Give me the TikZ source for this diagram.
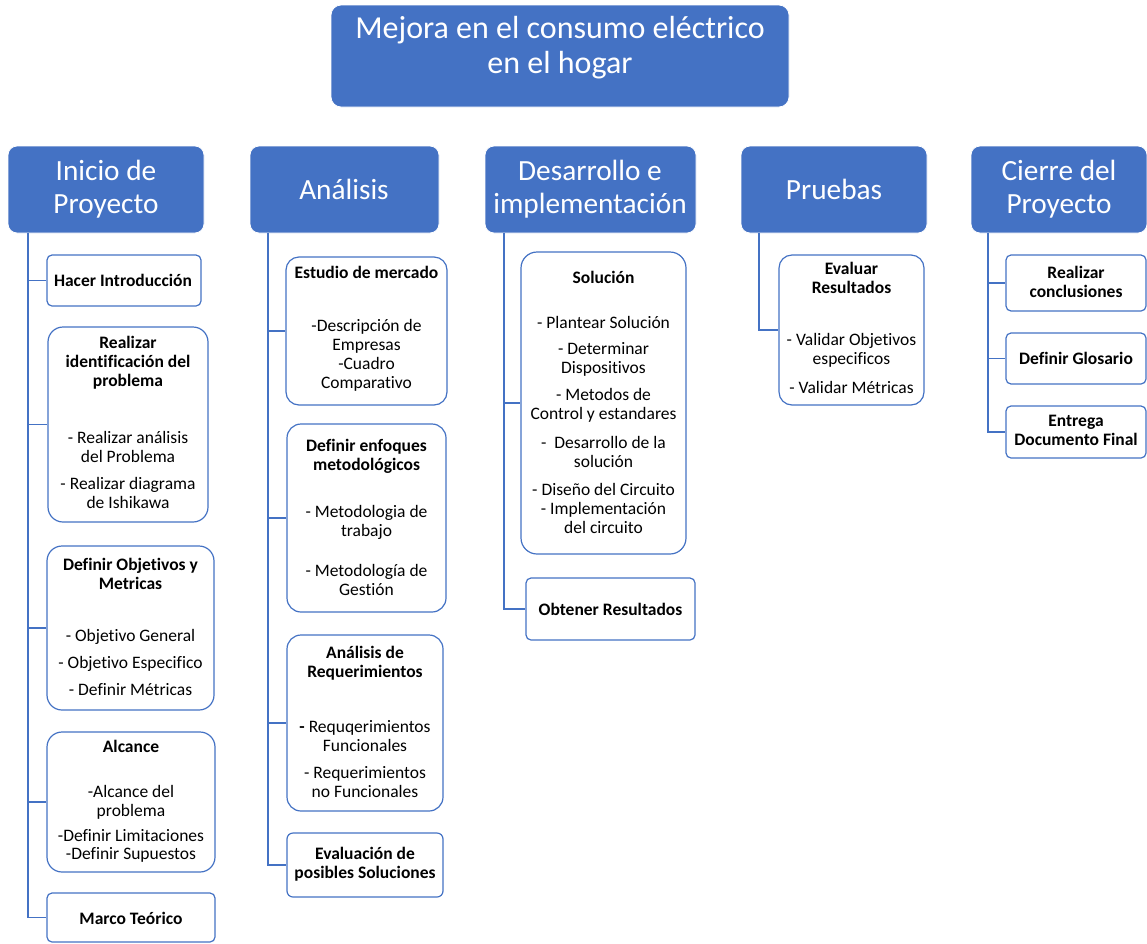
\documentclass[tikz,border=0pt]{standalone}
\usepackage{fontspec}
\setmainfont{Carlito}[Ligatures={NoCommon}]
\usetikzlibrary{fit}
\definecolor{ofblue}{HTML}{4472C4}
\tikzset{
  hdr/.style={fill=ofblue, draw=white, line width=0.8pt, inner sep=0pt},
  hdrtxt/.style={text=white, align=center, font=\fontsize{29.3}{33}\selectfont, inner sep=0pt},
  wb/.style={fill=white, draw=ofblue, line width=1.2pt, inner sep=0pt},
  tb/.style={align=center, font=\fontsize{17.5}{19}\selectfont\bfseries, inner sep=0pt, text=black},
  tr/.style={align=center, font=\fontsize{17.5}{19}\selectfont, inner sep=0pt, text=black},
  conn/.style={draw=ofblue, line width=1.4pt},
}
\newcommand\mkbox[7]{\node[#7, rounded corners=#6, fit={(#2,#3) (#4,#5)}] (#1) {};}
\begin{document}
\begin{tikzpicture}[x=1pt,y=-1pt]
\useasboundingbox (0,0) rectangle (1147,943);
% top
\mkbox{top}{331}{5}{789}{107}{10}{hdr}
\node[hdrtxt, font=\fontsize{32}{35}\selectfont] (toptxt) at (560,48) {Mejora en el consumo eléctrico\\en el hogar};
% headers
\mkbox{hI}{8}{146}{204}{233}{9}{hdr}
\mkbox{hA}{250}{146}{439}{233}{9}{hdr}
\mkbox{hD}{485}{146}{696}{233}{9}{hdr}
\mkbox{hP}{741}{146}{927}{233}{9}{hdr}
\mkbox{hC}{971}{146}{1147}{233}{9}{hdr}
\node[hdrtxt] (hIt) at (106,189) {Inicio de\\Proyecto};
\node[hdrtxt] (hAt) at (344,189) {Análisis};
\node[hdrtxt] (hDt) at (590,189) {Desarrollo e\\implementación};
\node[hdrtxt] (hPt) at (834,189) {Pruebas};
\node[hdrtxt] (hCt) at (1059,189) {Cierre del\\Proyecto};
% trunk coordinates
\coordinate (iA) at (28,233);
\coordinate (aA) at (268,233);
\coordinate (dA) at (504,233);
\coordinate (pA) at (759,233);
\coordinate (cA) at (988,233);

% ---- Inicio column
\mkbox{c1}{47}{255}{201}{306}{5}{wb}
\mkbox{c2}{48}{327}{208}{522}{15}{wb}
\mkbox{c3}{47}{546}{214}{710}{15}{wb}
\mkbox{c4}{47}{732}{215}{872}{15}{wb}
\mkbox{c5}{47}{893}{215}{942}{5}{wb}
\draw[conn] (iA) |- (c5.west);
\foreach \n in {c1,c2,c3,c4} \draw[conn] (iA |- \n.west) -- (\n.west);
\node[tb] (c1t) at (123,280) {Hacer Introducción};
\node[tb] (c2h) at (128,363) {Realizar\\identificación del\\problema};
\node[tr] (c2a) at (128,446.5) {- Realizar análisis\\del Problema};
\node[tr] (c2b) at (128,493) {- Realizar diagrama\\de Ishikawa};
\node[tb] (c3h) at (130.5,574) {Definir Objetivos y\\Metricas};
\node[tr] (c3a) at (130.5,637) {- Objetivo General};
\node[tr] (c3b) at (130.5,664) {- Objetivo Especifico};
\node[tr] (c3c) at (130.5,690) {- Definir Métricas};
\node[tb] (c4h) at (131,746) {Alcance};
\node[tr] (c4a) at (131,802) {-Alcance del\\problema};
\node[tr, font=\fontsize{17.5}{18}\selectfont] (c4b) at (131,846) {-Definir Limitaciones\\-Definir Supuestos};
\node[tb] (c5t) at (131,918) {Marco Teórico};

% ---- Analisis column
\mkbox{a1}{286}{257}{447}{405}{13}{wb}
\mkbox{a2}{287}{424}{446}{612}{14}{wb}
\mkbox{a3}{287}{635}{443}{811}{14}{wb}
\mkbox{a4}{287}{833}{443}{897}{6}{wb}
\draw[conn] (aA) |- (a4.west);
\foreach \n in {a1,a2,a3} \draw[conn] (aA |- \n.west) -- (\n.west);
\node[tb] (a1h) at (366.5,272) {Estudio de mercado};
\node[tr] (a1a) at (366.5,355.5) {-Descripción de\\Empresas\\-Cuadro\\Comparativo};
\node[tb] (a2h) at (366.5,456.5) {Definir enfoques\\metodológicos};
\node[tr] (a2a) at (366.5,522.5) {- Metodologia de\\trabajo};
\node[tr] (a2b) at (366.5,579.5) {- Metodología de\\Gestión};
\node[tb] (a3h) at (365,663.5) {Análisis de\\Requerimientos};
\node[tr] (a3a) at (365,736.5) {\textbf{-} Requqerimientos\\Funcionales};
\node[tr] (a3b) at (365,782.5) {- Requerimientos\\no Funcionales};
\node[tb] (a4t) at (365,864.5) {Evaluación de\\posibles Soluciones};

% ---- Desarrollo column
\mkbox{d1}{521}{252}{686}{554}{16}{wb}
\mkbox{d2}{526}{578}{695}{640}{5}{wb}
\draw[conn] (dA) |- (d2.west);
\draw[conn] (dA |- d1.west) -- (d1.west);
\node[tb] (d1h) at (603.5,277) {Solución};
\node[tr] (d1a) at (603.5,322) {- Plantear Solución};
\node[tr] (d1b) at (603.5,359.5) {- Determinar\\Dispositivos};
\node[tr] (d1c) at (603.5,405.5) {- Metodos de\\Control y estandares};
\node[tr] (d1d) at (603.5,451.5) {-~~Desarrollo de la\\solución};
\node[tr] (d1e) at (603.5,508) {- Diseño del Circuito\\- Implementación\\del circuito};
\node[tb] (d2t) at (610.5,609) {Obtener Resultados};

% ---- Pruebas column
\mkbox{p1}{779}{255}{924}{405}{13}{wb}
\draw[conn] (pA) |- (p1.west);
\node[tb] (p1h) at (851.5,278) {Evaluar\\Resultados};
\node[tr] (p1a) at (851.5,350.5) {- Validar Objetivos\\especificos};
\node[tr] (p1b) at (851.5,387) {- Validar Métricas};

% ---- Cierre column
\mkbox{e1}{1006}{255}{1146}{311}{5}{wb}
\mkbox{e2}{1006}{333}{1146}{384}{5}{wb}
\mkbox{e3}{1006}{406}{1146}{458}{5}{wb}
\draw[conn] (cA) |- (e3.west);
\foreach \n in {e1,e2} \draw[conn] (cA |- \n.west) -- (\n.west);
\node[tb] (e1t) at (1076,281.5) {Realizar\\conclusiones};
\node[tb] (e2t) at (1076,358) {Definir Glosario};
\node[tb] (e3t) at (1076,430) {Entrega\\Documento Final};
\end{tikzpicture}
\end{document}
